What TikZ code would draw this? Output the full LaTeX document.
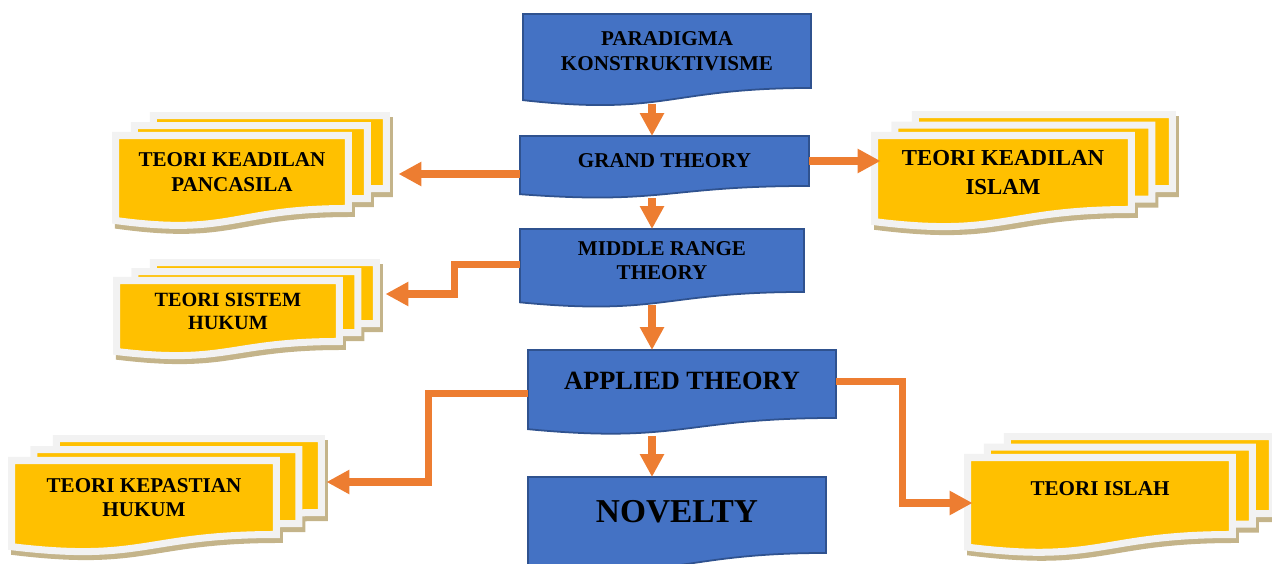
\documentclass[tikz,border=0pt]{standalone}
\usepackage{fontspec}
\setmainfont{Liberation Serif}
\usetikzlibrary{arrows.meta,calc,backgrounds}
\definecolor{blau}{HTML}{4472C4}
\definecolor{blaurand}{HTML}{2F528F}
\definecolor{gelb}{HTML}{FFC000}
\definecolor{rand}{HTML}{F2F2F2}
\definecolor{schatten}{RGB}{196,180,138}
\definecolor{pfeilfarbe}{HTML}{ED7D31}

\def\pxpt{0.5669pt}

% Dokument-Form: Knoten = oberer Rechteckteil, Welle unten
\newcommand\dokform[3]{%
  let \p1=(#1.north west), \p2=(#1.south east), \n1={\y1-\y2}, \n2={(\x1+\x2)/2} in
  ({\x1+(#2)*\pxpt},{\y1-(#3)*\pxpt}) -- ({\x2+(#2)*\pxpt},{\y1-(#3)*\pxpt})
  -- ({\x2+(#2)*\pxpt},{\y2-(#3)*\pxpt})
  .. controls ({\n2+(#2)*\pxpt},{\y2-(#3)*\pxpt}) and ({\n2+(#2)*\pxpt},{\y2-0.381*\n1-(#3)*\pxpt}) ..
  ({\x1+(#2)*\pxpt},{\y2-0.1646*\n1-(#3)*\pxpt}) -- cycle}

% Stapel aus drei Blaettern mit Schatten
\newcommand\stapel[3]{%
  \begin{scope}[on background layer]
    \foreach \i in {2,1,0}
      \path[schattenbox] \dokform{#1}{\i*(#2)+3}{\i*(#3)+5};
    \foreach \i in {2,1,0}
      \draw[gelbbox] \dokform{#1}{\i*(#2)}{\i*(#3)};
  \end{scope}}

\begin{document}
\begin{tikzpicture}[x=0.02cm, y=-0.02cm,
    blautext/.style={inner sep=0pt, outer sep=0pt, align=center, font=\bfseries\fontsize{12}{14}\selectfont},
    gelbtext/.style={inner sep=0pt, outer sep=0pt, align=center, font=\bfseries\fontsize{12}{14}\selectfont},
    blaubox/.style={fill=blau, draw=blaurand, line width=1pt},
    gelbbox/.style={fill=gelb, draw=rand, line width=4pt},
    schattenbox/.style={fill=schatten, draw=schatten, line width=4pt},
    pfeil/.style={draw=pfeilfarbe, line width=4pt, -{Triangle[width=13pt,length=13pt]}}]

    \useasboundingbox (0,0) rectangle (1272,564);

    % Blaue Kaesten (Mitte)
    \node[blautext, minimum width=5.76cm, minimum height=1.48cm] (paradigma) at (667,51) {PARADIGMA\\KONSTRUKTIVISME};
    \node[blautext, minimum width=5.78cm, minimum height=1.0cm] (grand) at (664.5,161) {GRAND THEORY};
    \node[blautext, minimum width=5.68cm, minimum height=1.26cm] (middle) at (662,260.5) {MIDDLE RANGE\\THEORY};
    \node[blautext, minimum width=6.16cm, minimum height=1.36cm, font=\bfseries\fontsize{15}{18}\selectfont] (applied) at (682,384) {\raisebox{3.5pt}{APPLIED THEORY}};
    \node[blautext, minimum width=5.96cm, minimum height=1.52cm, font=\bfseries\fontsize{19}{22}\selectfont] (novelty) at (677,515) {\raisebox{3.5pt}{NOVELTY}};

    % Gelbe Stapel
    \node[gelbtext, minimum width=4.66cm, minimum height=1.46cm] (pancasila) at (232,172) {TEORI KEADILAN\\PANCASILA};
    \node[gelbtext, minimum width=5.14cm, minimum height=1.48cm, font=\bfseries\fontsize{13}{16}\selectfont] (islam) at (1003,172.5) {TEORI KEADILAN\\ISLAM};
    \node[gelbtext, minimum width=4.46cm, minimum height=1.22cm, font=\bfseries\fontsize{11.5}{13}\selectfont] (sistem) at (228,311) {TEORI SISTEM\\HUKUM};
    \node[gelbtext, minimum width=5.3cm, minimum height=1.48cm] (kepastian) at (144,497.5) {TEORI KEPASTIAN\\HUKUM};
    \node[gelbtext, minimum width=5.3cm, minimum height=1.54cm] (islah) at (1100,496) {\raisebox{9pt}{TEORI ISLAH}};

    % Formen hinter den Texten
    \begin{scope}[on background layer]
        \foreach \kn in {paradigma,grand,middle,applied,novelty}
            \draw[blaubox] \dokform{\kn}{0}{0};
    \end{scope}
    \stapel{pancasila}{19}{-10}
    \stapel{islam}{20.5}{-10.5}
    \stapel{sistem}{18.5}{-9}
    \stapel{kepastian}{22.5}{-11}
    \stapel{islah}{20}{-10.5}

    % Anschlusspunkte
    \coordinate (achse) at (652,0);
    \path (pancasila.east) ++(50,2) coordinate (pancasila-r);
    \path (sistem.east) ++(46,-17) coordinate (sistem-r);
    \path (kepastian.east) ++(50,-15.5) coordinate (kepastian-r);
    \path (islam.west) ++(6,0) coordinate (islam-l);
    \path (islah.west) ++(5,7) coordinate (islah-l);

    % Pfeile
    \draw[pfeil, shorten <=9pt] (paradigma.south -| achse) -- (grand.north -| achse);
    \draw[pfeil, shorten <=7pt] (grand.south -| achse) -- (middle.north -| achse);
    \draw[pfeil, shorten <=7.5pt] (middle.south -| achse) -- (applied.north -| achse);
    \draw[pfeil, shorten <=10.5pt] (applied.south -| achse) -- (novelty.north -| achse);

    \draw[pfeil] (grand.west |- pancasila-r) -- (pancasila-r);
    \draw[pfeil] (grand.east) -- (grand.east -| islam-l);
    \draw[pfeil] ([yshift=-2.5pt]middle.west) -- ++(-66,0) |- (sistem-r);
    \draw[pfeil] ([yshift=-5.5pt]applied.west) -- ++(-100,0) |- (kepastian-r);
    \draw[pfeil] ([yshift=1.5pt]applied.east) -- ++(67,0) |- (islah-l);

\end{tikzpicture}
\end{document}
